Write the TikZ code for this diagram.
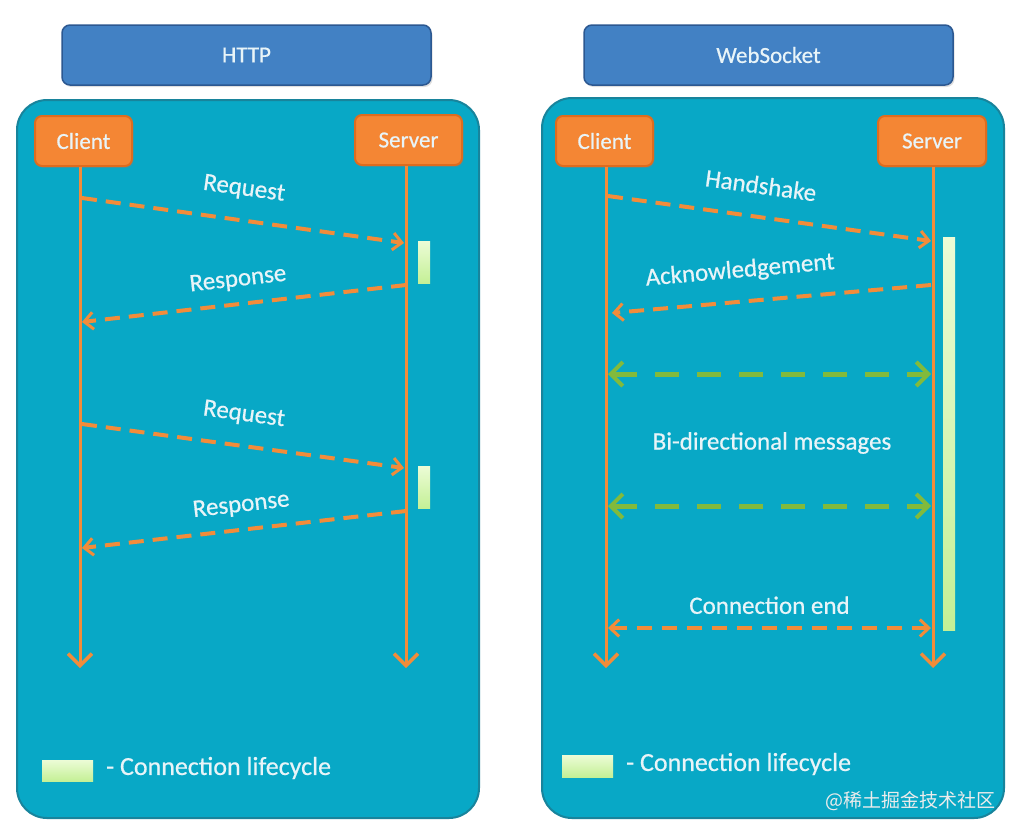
\documentclass[tikz,border=0pt]{standalone}
\usepackage{fontspec}
\setmainfont{Carlito}[FakeBold=0.6]
\newfontfamily\cjk{Noto Sans CJK SC}
\usetikzlibrary{arrows.meta,shadows}
\definecolor{panelfill}{RGB}{8,168,198}
\definecolor{panelline}{RGB}{24,132,156}
\definecolor{titlefill}{RGB}{66,129,196}
\definecolor{titleline}{RGB}{44,88,145}
\definecolor{orfill}{RGB}{244,134,52}
\definecolor{orline}{RGB}{222,108,30}
\definecolor{arrowor}{RGB}{242,140,58}
\definecolor{arrowgr}{RGB}{130,186,60}
\definecolor{labeltext}{RGB}{232,244,248}
\definecolor{barlight}{RGB}{236,252,214}
\definecolor{bardark}{RGB}{196,240,150}
\tikzset{
  panel/.style={draw=panelline, line width=2pt, fill=panelfill, rounded corners=30pt, inner sep=0pt},
  titlebox/.style={draw=titleline, line width=1.5pt, fill=titlefill, rounded corners=8pt, text=labeltext, font=\fontsize{23}{26}\selectfont, drop shadow={opacity=0.25, shadow xshift=1.5pt, shadow yshift=-2pt}},
  actor/.style={draw=orline, line width=2pt, fill=orfill, rounded corners=7pt, text=labeltext, font=\fontsize{23}{26}\selectfont, minimum height=50pt, drop shadow={opacity=0.3, shadow xshift=1.5pt, shadow yshift=-2pt}},
  lifeline/.style={draw=arrowor, line width=3pt, -{Straight Barb[length=12pt,width=24pt,line width=3.5pt]}},
  msg/.style={draw=arrowor, line width=4pt, dash pattern=on 15pt off 9pt, -{Straight Barb[length=9pt,width=17pt,line width=3pt]}},
  bimsg/.style={draw=arrowor, line width=4pt, dash pattern=on 15pt off 10pt, {Straight Barb[length=9pt,width=17pt,line width=3pt]}-{Straight Barb[length=9pt,width=17pt,line width=3pt]}},
  grmsg/.style={draw=arrowgr, line width=5pt, dash pattern=on 24pt off 18pt, {Straight Barb[length=12pt,width=24pt,line width=4pt]}-{Straight Barb[length=12pt,width=24pt,line width=4pt]}},
  lbl/.style={text=labeltext, font=\fontsize{25}{28}\selectfont, inner sep=1pt},
  lifebar/.style={draw=none, top color=barlight, bottom color=bardark, inner sep=0pt, minimum width=12pt},
  legendtext/.style={text=labeltext, font=\fontsize{26}{28}\selectfont, anchor=west, inner sep=0pt}
}
\begin{document}
\begin{tikzpicture}[x=1pt,y=-1pt]
\useasboundingbox (0,0) rectangle (1020,836);
\fill[white] (0,0) rectangle (1020,836);

% ---------------- HTTP ----------------
\node[titlebox, minimum width=369pt, minimum height=60pt] (t1) at (246.5,55) {HTTP};
\node[panel, minimum width=462pt, minimum height=718pt] (p1) at (248,459) {};
\node[actor, minimum width=97pt] (c1) at (83.5,141) {Client};
\node[actor, minimum width=107pt] (s1) at (408.5,140) {Server};

\coordinate (c1end) at (80,668);
\coordinate (s1end) at (406,668);
\draw[lifeline] (c1.south -| c1end) -- (c1end);
\draw[lifeline] (s1.south -| s1end) -- (s1end);

\node[lifebar, minimum height=42pt] (b1) at (424,262) {};
\node[lifebar, minimum height=42pt] (b2) at (424,487) {};

\coordinate (q1a) at (82,198);  \coordinate (q1b) at (404,243);
\coordinate (r1a) at (406,285); \coordinate (r1b) at (82,322);
\coordinate (q2a) at (82,424);  \coordinate (q2b) at (404,468);
\coordinate (r2a) at (406,511); \coordinate (r2b) at (82,548);

\draw[msg] (q1a) -- node[lbl, sloped, above=18pt, pos=0.49] (lq1) {Request} (q1b);
\draw[msg] (r1a) -- node[lbl, sloped, above=11pt, pos=0.51] (lr1) {Response} (r1b);
\draw[msg] (q2a) -- node[lbl, sloped, above=18pt, pos=0.49] (lq2) {Request} (q2b);
\draw[msg] (r2a) -- node[lbl, sloped, above=11pt, pos=0.5] (lr2) {Response} (r2b);

\node[lifebar, minimum width=51pt, minimum height=21pt] (lg1) at (67.5,770.5) {};
\node[legendtext] (lgt1) at (106,768) {- Connection lifecycle};

% ---------------- WebSocket ----------------
\node[titlebox, minimum width=369pt, minimum height=60pt] (t2) at (768.5,55) {WebSocket};
\node[panel, minimum width=462pt, minimum height=720pt] (p2) at (773,458) {};
\node[actor, minimum width=97pt] (c2) at (604.5,141) {Client};
\node[actor, minimum width=108pt] (s2) at (932,141) {Server};

\coordinate (c2end) at (606,668);
\coordinate (s2end) at (933,668);
\draw[lifeline] (c2.south -| c2end) -- (c2end);
\draw[lifeline] (s2.south -| s2end) -- (s2end);

\node[lifebar, minimum height=393pt] (b3) at (949,433.5) {};

\coordinate (h1a) at (608,196);  \coordinate (h1b) at (931,241);
\coordinate (k1a) at (931,285);  \coordinate (k1b) at (612,313);
\coordinate (g1a) at (608,374);  \coordinate (g1b) at (931,374);
\coordinate (g2a) at (608,506);  \coordinate (g2b) at (931,506);
\coordinate (e1a) at (608,628);  \coordinate (e1b) at (931,628);

\draw[msg] (h1a) -- node[lbl, sloped, above=20pt, pos=0.46] (lh) {Handshake} (h1b);
\draw[msg] (k1a) -- node[lbl, sloped, above=17pt, pos=0.59] (lk) {Acknowledgement} (k1b);
\draw[grmsg] (g1a) -- (g1b);
\node[lbl] (lbi) at (772,443) {Bi-directional messages};
\draw[grmsg] (g2a) -- (g2b);
\draw[bimsg] (e1a) -- node[lbl, above=11pt, pos=0.5] (le) {Connection end} (e1b);

\node[lifebar, minimum width=51pt, minimum height=22pt] (lg2) at (587.5,766) {};
\node[legendtext] (lgt2) at (626,764) {- Connection lifecycle};

\node[text=white!85!gray, font=\cjk\fontsize{19}{22}\selectfont, anchor=east, inner sep=0pt] (wm) at (996,801) {@稀土掘金技术社区};
\end{tikzpicture}
\end{document}
